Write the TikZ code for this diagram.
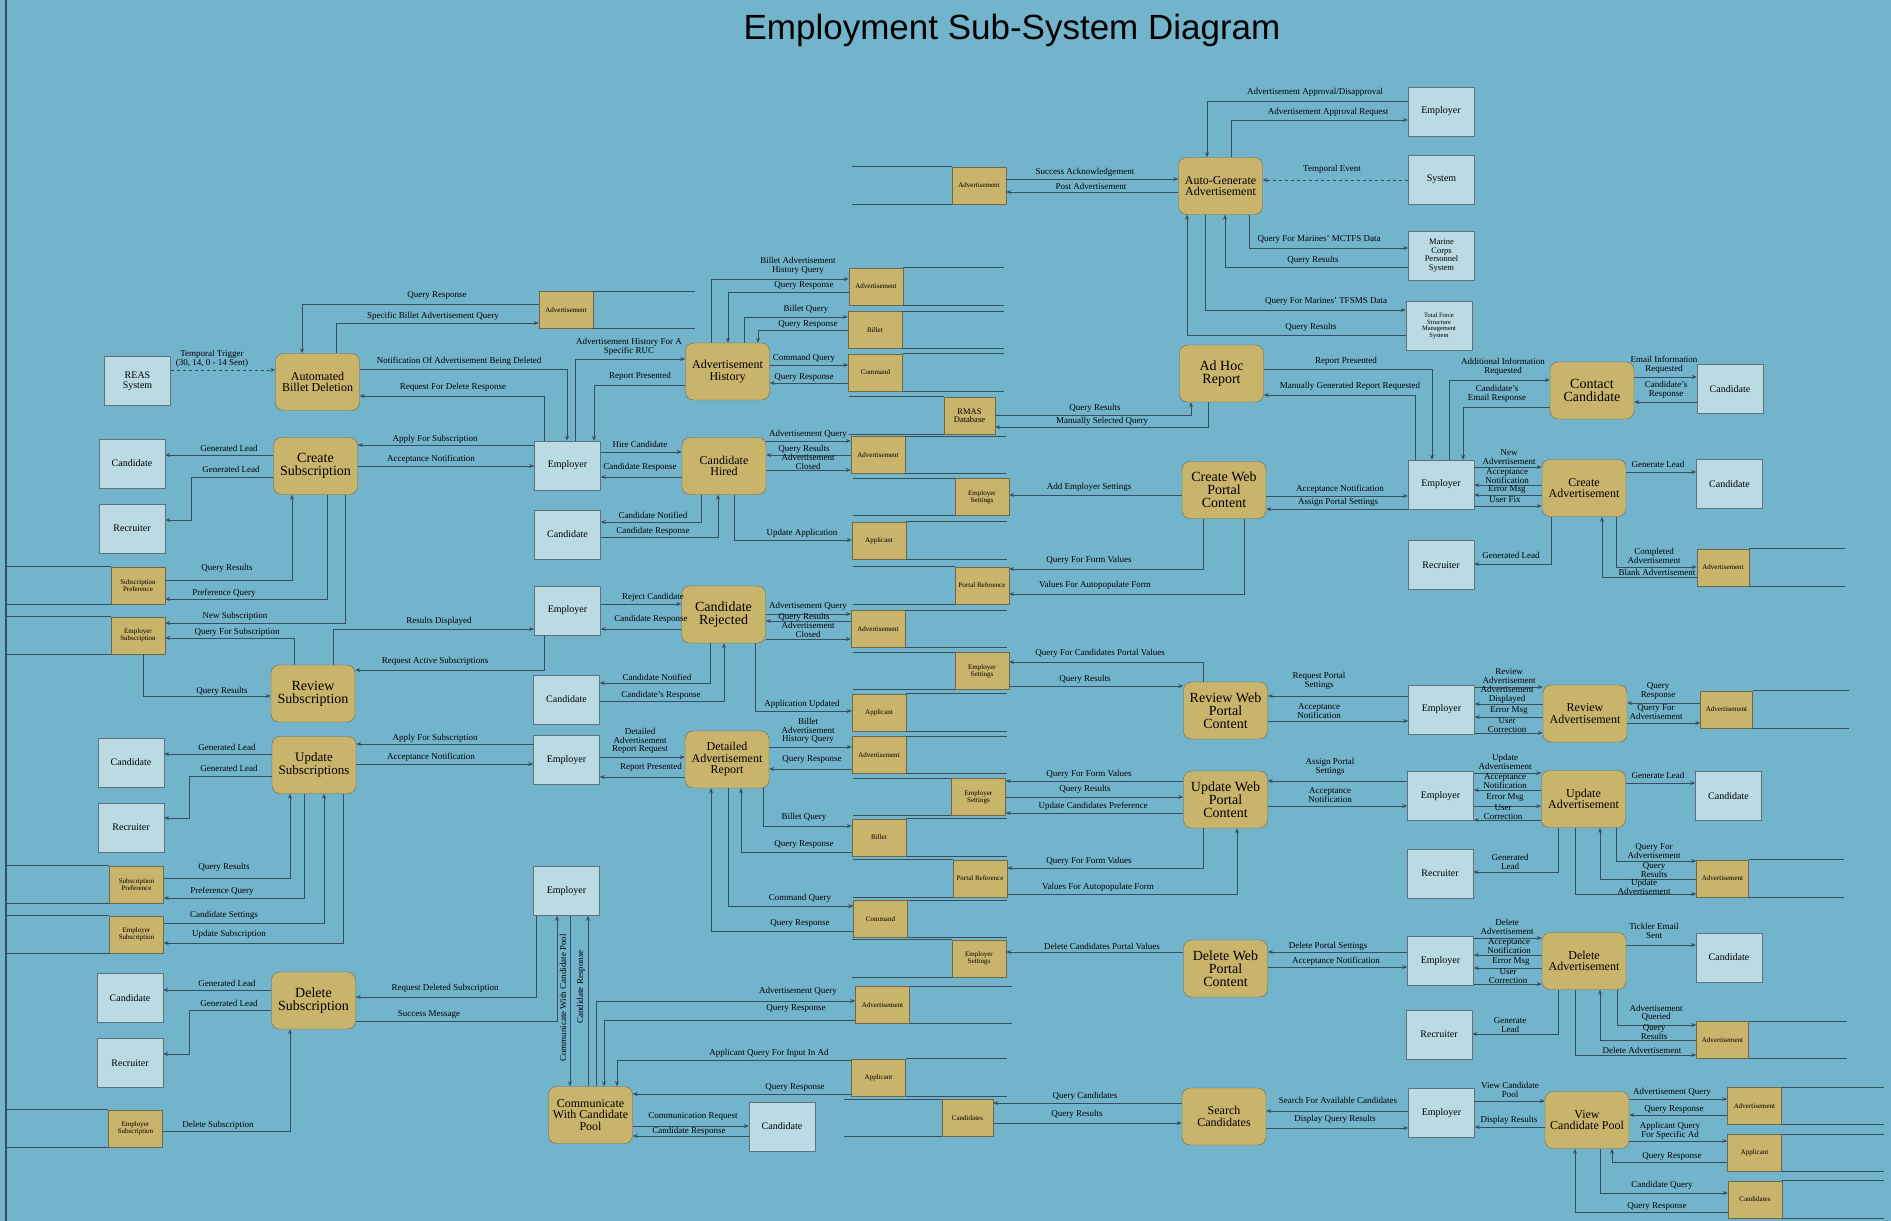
\documentclass[tikz,border=0pt]{standalone}
\usepackage{fontspec}
\setmainfont{Liberation Serif}
\newfontfamily\titlefont{Liberation Sans}
\usetikzlibrary{arrows.meta}
\definecolor{bgblue}{RGB}{115,180,205}
\definecolor{procgold}{RGB}{201,180,108}
\definecolor{procline}{RGB}{112,102,72}
\definecolor{entfill}{RGB}{187,218,228}
\definecolor{entline}{RGB}{95,115,125}
\definecolor{flowcol}{RGB}{55,78,92}

\begin{document}
\begin{tikzpicture}[x=1pt, y=-1pt, >={Stealth[length=5pt,width=4pt]},
    proc/.style={draw=procline, fill=procgold, rounded corners=8pt, minimum width=84pt, minimum height=57pt, align=center, inner sep=1pt, font=\fontsize{12}{11.5}\selectfont},
    bigproc/.style={proc, font=\fontsize{14}{13}\selectfont},
    ent/.style={draw=entline, fill=entfill, minimum width=66pt, minimum height=49pt, align=center, inner sep=1pt, font=\fontsize{10}{10}\selectfont},
    store/.style={draw=procline, fill=procgold, minimum width=54pt, minimum height=37pt, align=center, inner sep=1pt, font=\fontsize{7}{7}\selectfont},
    storeline/.style={draw=flowcol, line width=0.8pt},
    flow/.style={draw=flowcol, line width=0.8pt, ->},
    tmp/.style={flow, dashed},
    lbl/.style={inner sep=0pt, align=center, font=\fontsize{9}{8.5}\selectfont}]

	\fill[bgblue] (0,0) rectangle (1891,1221);
	\useasboundingbox (0,0) rectangle (1891,1221);
	\draw[flowcol, line width=1.5pt] (6,0) -- (6,1221);
	\node[font=\titlefont\fontsize{35}{35}\selectfont] (title) at (1012,30) {Employment Sub-System Diagram};

	% external entities
	\node[ent] (reas) at (137.5,381) {REAS\\System};
	\node[ent] (candA) at (132,463.5) {Candidate};
	\node[ent] (recA) at (132,528.5) {Recruiter};
	\node[ent] (empA) at (567.5,465.5) {Employer};
	\node[ent] (candB) at (567.5,534.5) {Candidate};
	\node[ent] (empB) at (567.5,610.5) {Employer};
	\node[ent] (candC) at (566.5,699.5) {Candidate};
	\node[ent] (candD) at (131,762.5) {Candidate};
	\node[ent] (recD) at (131,827.5) {Recruiter};
	\node[ent] (empC) at (566.5,760) {Employer};
	\node[ent] (empD) at (566.5,891) {Employer};
	\node[ent] (candE) at (130,998) {Candidate};
	\node[ent] (recE) at (130,1063) {Recruiter};
	\node[ent] (candF) at (782,1126.5) {Candidate};
	\node[ent] (empTR) at (1441,111.5) {Employer};
	\node[ent] (system) at (1441.5,179.5) {System};
	\node[ent, font=\fontsize{8.5}{8.5}\selectfont] (mcps) at (1441.5,255.5) {Marine\\Corps\\Personnel\\System};
	\node[ent, font=\fontsize{6.5}{6.5}\selectfont] (tfsms) at (1439,326) {Total Force\\Structure\\Management\\System};
	\node[ent] (candG) at (1730,389) {Candidate};
	\node[ent] (empE) at (1441,484.5) {Employer};
	\node[ent] (candH) at (1729.5,484) {Candidate};
	\node[ent] (recH) at (1441,565) {Recruiter};
	\node[ent] (empF) at (1441.5,709.5) {Employer};
	\node[ent] (empG) at (1440.5,796) {Employer};
	\node[ent] (candI) at (1728.5,796) {Candidate};
	\node[ent] (recI) at (1440,873.5) {Recruiter};
	\node[ent] (empH) at (1440.5,961) {Employer};
	\node[ent] (candJ) at (1729,957.5) {Candidate};
	\node[ent] (recJ) at (1439,1034.5) {Recruiter};
	\node[ent] (empI) at (1441.5,1113) {Employer};

	% processes
	\node[proc] (abd) at (317.5,382) {Automated\\Billet Deletion};
	\node[bigproc] (crsub) at (315.5,466) {Create\\Subscription};
	\node[bigproc] (revsub) at (313,693.5) {Review\\Subscription};
	\node[bigproc, font=\fontsize{13}{13}\selectfont] (updsub) at (314,765) {Update\\Subscriptions};
	\node[bigproc] (delsub) at (313.5,1000.5) {Delete\\Subscription};
	\node[proc] (advhist) at (727.5,371.5) {Advertisement\\History};
	\node[proc] (hired) at (724,466) {Candidate\\Hired};
	\node[bigproc] (rejected) at (723.5,614.5) {Candidate\\Rejected};
	\node[proc] (detailed) at (727,759.5) {Detailed\\Advertisement\\Report};
	\node[proc] (commun) at (590.5,1115) {Communicate\\With Candidate\\Pool};
	\node[proc] (autogen) at (1220.5,186) {Auto-Generate\\Advertisement};
	\node[bigproc] (adhoc) at (1221.5,373.5) {Ad Hoc\\Report};
	\node[bigproc] (createweb) at (1224,490) {Create Web\\Portal\\Content};
	\node[bigproc] (reviewweb) at (1225.5,710.5) {Review Web\\Portal\\Content};
	\node[bigproc] (updateweb) at (1225.5,799.5) {Update Web\\Portal\\Content};
	\node[bigproc] (deleteweb) at (1225.5,968.5) {Delete Web\\Portal\\Content};
	\node[proc] (search) at (1224,1116.5) {Search\\Candidates};
	\node[bigproc] (contact) at (1592,390.5) {Contact\\Candidate};
	\node[proc] (createadv) at (1584,488) {Create\\Advertisement};
	\node[proc] (reviewadv) at (1585,713.5) {Review\\Advertisement};
	\node[proc] (updateadv) at (1583.5,799) {Update\\Advertisement};
	\node[proc] (deleteadv) at (1584,961) {Delete\\Advertisement};
	\node[proc] (viewpool) at (1587,1120) {View\\Candidate Pool};

	% data stores
	\node[store] (advA) at (566,310) {Advertisement};
	\node[store] (advB) at (979,185.5) {Advertisement};
	\node[store] (advC) at (876,286.5) {Advertisement};
	\node[store] (billetA) at (875,330) {Billet};
	\node[store] (cmdA) at (875.5,372.5) {Command};
	\node[store, minimum width=51pt, font=\fontsize{8.5}{8.5}\selectfont] (rmas) at (969.5,415.5) {RMAS\\Database};
	\node[store] (advD) at (878,455) {Advertisement};
	\node[store] (empset1) at (982,497) {Employer\\Settings};
	\node[store] (applA) at (879,540.5) {Applicant};
	\node[store] (portref1) at (982,585.5) {Portal Reference};
	\node[store] (advE) at (878,629) {Advertisement};
	\node[store] (empset2) at (982,671) {Employer\\Settings};
	\node[store] (applB) at (879,712.5) {Applicant};
	\node[store] (advF) at (879,755) {Advertisement};
	\node[store] (empset3) at (978.5,797) {Employer\\Settings};
	\node[store] (billetB) at (879,837.5) {Billet};
	\node[store] (portref2) at (980,878.5) {Portal Reference};
	\node[store] (cmdB) at (880.5,919) {Command};
	\node[store] (empset4) at (979,958.5) {Employer\\Settings};
	\node[store] (advG) at (882.5,1005) {Advertisement};
	\node[store] (applC) at (878.5,1077.5) {Applicant};
	\node[store, minimum width=51pt] (candsA) at (967.5,1118) {Candidates};
	\node[store] (subprefA) at (138,585.5) {Subscription\\Preference};
	\node[store] (empsubA) at (138,635.5) {Employer\\Subscription};
	\node[store] (subprefB) at (136.5,884.5) {Subscription\\Preference};
	\node[store] (empsubB) at (136.5,934.5) {Employer\\Subscription};
	\node[store] (empsubC) at (135.5,1128.5) {Employer\\Subscription};
	\node[store, minimum width=52pt] (advH) at (1723,567.5) {Advertisement};
	\node[store, minimum width=52pt] (advI) at (1726.5,709.5) {Advertisement};
	\node[store, minimum width=52pt] (advJ) at (1722.5,878.5) {Advertisement};
	\node[store, minimum width=52pt] (advK) at (1722.5,1040) {Advertisement};
	\node[store] (advL) at (1754.5,1106) {Advertisement};
	\node[store] (applD) at (1754.5,1153) {Applicant};
	\node[store] (candsB) at (1755,1199.5) {Candidates};

	\foreach \s/\a/\d in {advA/east/102, advB/west/-100, advC/east/101, billetA/east/102, cmdA/east/101,
	    rmas/west/-95, advD/east/101, empset1/west/-102, applA/east/101, portref1/west/-102,
	    advE/east/102, empset2/west/-102, applB/east/101, advF/east/101, empset3/west/-98,
	    billetB/east/101, portref2/west/-100, cmdB/east/99, empset4/west/-100, advG/east/102,
	    applC/east/101, candsA/west/-98, subprefA/west/-105, empsubA/west/-105, subprefB/west/-103,
	    empsubB/west/-103, empsubC/west/-102, advH/east/96, advI/east/96, advJ/east/95,
	    advK/east/98, advL/east/102, applD/east/102, candsB/east/102}
		\draw[storeline] (\s.north \a) -- ++(\d,0) (\s.south \a) -- ++(\d,0);

	% billet deletion
	\draw[flow] (advA.west |- 0,304) -| (abd.north -| 302,0) node[lbl] (l1) at (437,295) {Query Response};
	\draw[flow] (abd.north -| 336,0) |- (advA.west |- 0,323) node[lbl] (l2) at (433,316) {Specific Billet Advertisement Query};
	\draw[tmp] (reas.east |- 0,370) -- (abd.west |- 0,370) node[lbl] (l3) at (212,359) {Temporal Trigger\\(30, 14, 0 - 14 Sent)};
	\draw[flow] (abd.east |- 0,369) -| (empA.north -| 567,0) node[lbl] (l4) at (459,361) {Notification Of Advertisement Being Deleted};
	\draw[flow] (empA.north -| 544,0) |- (abd.east |- 0,396) node[lbl] (l5) at (453,387) {Request For Delete Response};

	% advertisement history
	\draw[flow] (empA.north -| 575,0) |- (advhist.west |- 0,359) node[lbl] (l6) at (629,347) {Advertisement History For A\\Specific RUC};
	\draw[flow] (advhist.west |- 0,385) -| (empA.north -| 594,0) node[lbl] (l7) at (640,376) {Report Presented};
	\draw[flow] (advhist.north -| 711,0) |- (advC.west |- 0,279) node[lbl] (l8) at (798,266) {Billet Advertisement\\History Query};
	\draw[flow] (advC.west |- 0,292) -| (advhist.north -| 728,0) node[lbl] (l9) at (804,285) {Query Response};
	\draw[flow] (advhist.north -| 744,0) |- (billetA.west |- 0,317) node[lbl] (l10) at (806,309) {Billet Query};
	\draw[flow] (billetA.west |- 0,330) -| (advhist.north -| 758,0) node[lbl] (l11) at (808,324) {Query Response};
	\draw[flow] (advhist.east |- 0,365) -- (cmdA.west |- 0,365) node[lbl] (l12) at (804,358) {Command Query};
	\draw[flow] (cmdA.west |- 0,383) -- (advhist.east |- 0,383) node[lbl] (l13) at (804,377) {Query Response};

	% auto-generate advertisement
	\draw[flow] (empTR.west |- 0,101) -| (autogen.north -| 1207,0) node[lbl] (l14) at (1315,92) {Advertisement Approval/Disapproval};
	\draw[flow] (autogen.north -| 1231,0) |- (empTR.west |- 0,120) node[lbl] (l15) at (1328,112) {Advertisement Approval Request};
	\draw[tmp] (system.west |- 0,180) -- (autogen.east |- 0,180) node[lbl] (l16) at (1332,169) {Temporal Event};
	\draw[flow] (autogen.south -| 1249,0) |- (mcps.west |- 0,248) node[lbl] (l17) at (1319,239) {Query For Marines' MCTFS Data};
	\draw[flow] (mcps.west |- 0,267) -| (autogen.south -| 1225,0) node[lbl] (l18) at (1313,260) {Query Results};
	\draw[flow] (autogen.south -| 1205,0) |- (tfsms.west |- 0,310) node[lbl] (l19) at (1326,301) {Query For Marines' TFSMS Data};
	\draw[flow] (tfsms.west |- 0,335) -| (autogen.south -| 1187,0) node[lbl] (l20) at (1311,327) {Query Results};
	\draw[flow] (advB.east |- 0,179) -- (autogen.west |- 0,179) node[lbl] (l21) at (1085,172) {Success Acknowledgement};
	\draw[flow] (autogen.west |- 0,192) -- (advB.east |- 0,192) node[lbl] (l22) at (1091,186) {Post Advertisement};

	% ad hoc report
	\draw[flow] (rmas.east |- 0,415) -| (adhoc.south -| 1191,0) node[lbl] (l23) at (1095,408) {Query Results};
	\draw[flow] (adhoc.south -| 1208,0) |- (rmas.east |- 0,427) node[lbl] (l24) at (1102,421) {Manually Selected Query};
	\draw[flow] (adhoc.east |- 0,369) -| (empE.north -| 1432,0) node[lbl] (l25) at (1346,361) {Report Presented};
	\draw[flow] (empE.north -| 1415,0) |- (adhoc.east |- 0,395) node[lbl] (l26) at (1350,386) {Manually Generated Report Requested};

	% contact candidate
	\draw[flow] (empE.north -| 1449,0) |- (contact.west |- 0,380) node[lbl] (l27) at (1503,367) {Additional Information\\Requested};
	\draw[flow] (contact.west |- 0,407) -| (empE.north -| 1463,0) node[lbl] (l28) at (1497,394) {Candidate's\\Email Response};
	\draw[flow] (contact.east |- 0,377) -- (candG.west |- 0,377) node[lbl] (l29) at (1664,365) {Email Information\\Requested};
	\draw[flow] (candG.west |- 0,402) -- (contact.east |- 0,402) node[lbl] (l30) at (1666,390) {Candidate's\\Response};

	% create web portal content
	\draw[flow] (createweb.east |- 0,496) -- (empE.west |- 0,496) node[lbl] (l31) at (1340,489) {Acceptance Notification};
	\draw[flow] (empE.west |- 0,509) -- (createweb.east |- 0,509) node[lbl] (l32) at (1338,502) {Assign Portal Settings};
	\draw[flow] (createweb.west |- 0,495) -- (empset1.east |- 0,495) node[lbl] (l33) at (1089,487) {Add Employer Settings};
	\draw[flow] (createweb.south -| 1203,0) |- (portref1.east |- 0,569) node[lbl] (l34) at (1089,560) {Query For Form Values};
	\draw[flow] (createweb.south -| 1244,0) |- (portref1.east |- 0,594) node[lbl] (l35) at (1095,585) {Values For Autopopulate Form};

	% create advertisement
	\draw[flow] (empE.east |- 0,467) -- (createadv.west |- 0,467) node[lbl] (l36) at (1509,457) {New\\Advertisement};
	\draw[flow] (createadv.west |- 0,485) -- (empE.east |- 0,485) node[lbl] (l37) at (1507,476) {Acceptance\\Notification};
	\draw[flow] (createadv.west |- 0,495) -- (empE.east |- 0,495) node[lbl] (l38) at (1507,490) {Error Msg};
	\draw[flow] (empE.east |- 0,506) -- (createadv.west |- 0,506) node[lbl] (l39) at (1505,500) {User Fix};
	\draw[flow] (createadv.east |- 0,472) -- (candH.west |- 0,472) node[lbl] (l40) at (1658,464) {Generate Lead};
	\draw[flow] (createadv.south -| 1551,0) |- (recH.east |- 0,564) node[lbl] (l41) at (1511,555) {Generated Lead};
	\draw[flow] (createadv.south -| 1616,0) |- (advH.west |- 0,567) node[lbl] (l42) at (1654,556) {Completed\\Advertisement};
	\draw[flow] (advH.west |- 0,577) -| (createadv.south -| 1602,0) node[lbl] (l43) at (1657,572) {Blank Advertisement};

	% subscriptions
	\draw[flow] (empA.west |- 0,445) -- (crsub.east |- 0,445) node[lbl] (l44) at (435,439) {Apply For Subscription};
	\draw[flow] (crsub.east |- 0,466) -- (empA.west |- 0,466) node[lbl] (l45) at (431,459) {Acceptance Notification};
	\draw[flow] (crsub.west |- 0,455) -- (candA.east |- 0,455) node[lbl] (l46) at (229,448) {Generated Lead};
	\draw[flow] (crsub.west |- 0,477) -| (191,520) -- (recA.east |- 0,520) node[lbl] (l47) at (231,469) {Generated Lead};
	\draw[flow] (subprefA.east |- 0,580) -| (crsub.south -| 292,0) node[lbl] (l48) at (227,568) {Query Results};
	\draw[flow] (crsub.south -| 327,0) |- (subprefA.east |- 0,599) node[lbl] (l49) at (224,593) {Preference Query};
	\draw[flow] (crsub.south -| 345,0) |- (empsubA.east |- 0,623) node[lbl] (l50) at (235,616) {New Subscription};
	\draw[flow] (revsub.north -| 294,0) |- (empsubA.east |- 0,638) node[lbl] (l51) at (237,632) {Query For Subscription};
	\draw[flow] (empsubA.south -| 143,0) |- (revsub.west |- 0,696) node[lbl] (l52) at (222,691) {Query Results};
	\draw[flow] (revsub.north -| 333,0) |- (empB.west |- 0,629) node[lbl] (l53) at (439,621) {Results Displayed};
	\draw[flow] (empB.south -| 544,0) |- (revsub.east |- 0,670) node[lbl] (l54) at (435,661) {Request Active Subscriptions};
	\draw[flow] (empC.west |- 0,744) -- (updsub.east |- 0,744) node[lbl] (l55) at (435,738) {Apply For Subscription};
	\draw[flow] (updsub.east |- 0,764) -- (empC.west |- 0,764) node[lbl] (l56) at (431,757) {Acceptance Notification};
	\draw[flow] (updsub.west |- 0,754) -- (candD.east |- 0,754) node[lbl] (l57) at (227,747) {Generated Lead};
	\draw[flow] (updsub.west |- 0,776) -| (189,818) -- (recD.east |- 0,818) node[lbl] (l58) at (229,768) {Generated Lead};
	\draw[flow] (subprefB.east |- 0,878) -| (updsub.south -| 290,0) node[lbl] (l59) at (224,867) {Query Results};
	\draw[flow] (updsub.south -| 304,0) |- (subprefB.east |- 0,898) node[lbl] (l60) at (222,891) {Preference Query};
	\draw[flow] (empsubB.east |- 0,923) -| (updsub.south -| 324,0) node[lbl] (l61) at (224,915) {Candidate Settings};
	\draw[flow] (updsub.south -| 343,0) |- (empsubB.east |- 0,943) node[lbl] (l62) at (229,934) {Update Subscription};
	\draw[flow] (delsub.west |- 0,990) -- (candE.east |- 0,990) node[lbl] (l63) at (227,983) {Generated Lead};
	\draw[flow] (delsub.west |- 0,1010) -| (189,1054) -- (recE.east |- 0,1054) node[lbl] (l64) at (229,1003) {Generated Lead};
	\draw[flow] (empD.south -| 536,0) |- (delsub.east |- 0,997) node[lbl] (l65) at (445,988) {Request Deleted Subscription};
	\draw[flow] (delsub.east |- 0,1021) -| (empD.south -| 557,0) node[lbl] (l66) at (429,1014) {Success Message};
	\draw[flow] (empsubC.east |- 0,1131) -| (delsub.south -| 290,0) node[lbl] (l67) at (218,1125) {Delete Subscription};

	% communicate with candidate pool
	\draw[flow] (empD.south -| 570,0) -- (commun.north -| 570,0) node[lbl, rotate=90] (l68) at (563,998) {Communicate With Candidate Pool};
	\draw[flow] (commun.north -| 588,0) -- (empD.south -| 588,0) node[lbl, rotate=90] (l69) at (581,987) {Candidate Response};
	\draw[flow] (commun.north -| 596,0) |- (advG.west |- 0,1001) node[lbl] (l70) at (798,991) {Advertisement Query};
	\draw[flow] (advG.west |- 0,1020) -| (commun.north -| 604,0) node[lbl] (l71) at (796,1008) {Query Response};
	\draw[flow] (applC.west |- 0,1060) -| (commun.north -| 617,0) node[lbl] (l72) at (769,1053) {Applicant Query For Input In Ad};
	\draw[flow] (applC.west |- 0,1094) -- (commun.east |- 0,1094) node[lbl] (l73) at (795,1087) {Query Response};
	\draw[flow] (commun.east |- 0,1126) -- (candF.west |- 0,1126) node[lbl] (l74) at (693,1116) {Communication Request};
	\draw[flow] (candF.west |- 0,1136) -- (commun.east |- 0,1136) node[lbl] (l75) at (689,1131) {Candidate Response};

	% candidate hired
	\draw[flow] (empA.east |- 0,452) -- (hired.west |- 0,452) node[lbl] (l76) at (640,444) {Hire Candidate};
	\draw[flow] (hired.west |- 0,477) -- (empA.east |- 0,477) node[lbl] (l77) at (640,467) {Candidate Response};
	\draw[flow] (hired.south -| 701,0) |- (candB.east |- 0,522) node[lbl] (l78) at (653,515) {Candidate Notified};
	\draw[flow] (candB.east |- 0,537) -| (hired.south -| 718,0) node[lbl] (l79) at (653,531) {Candidate Response};
	\draw[flow] (hired.south -| 734,0) |- (applA.west |- 0,540) node[lbl] (l80) at (802,533) {Update Application};
	\draw[flow] (hired.east |- 0,441) -- (advD.west |- 0,441) node[lbl] (l81) at (808,434) {Advertisement Query};
	\draw[flow] (advD.west |- 0,455) -- (hired.east |- 0,455) node[lbl] (l82) at (804,449) {Query Results};
	\draw[flow] (hired.east |- 0,470) -- (advD.west |- 0,470) node[lbl] (l83) at (808,462) {Advertisement\\Closed};

	% candidate rejected
	\draw[flow] (empB.east |- 0,604) -- (rejected.west |- 0,604) node[lbl] (l84) at (653,597) {Reject Candidate};
	\draw[flow] (rejected.west |- 0,629) -- (empB.east |- 0,629) node[lbl] (l85) at (651,619) {Candidate Response};
	\draw[flow] (rejected.south -| 710,0) |- (candC.east |- 0,683) node[lbl] (l86) at (657,677) {Candidate Notified};
	\draw[flow] (candC.east |- 0,701) -| (rejected.south -| 724,0) node[lbl] (l87) at (661,695) {Candidate's Response};
	\draw[flow] (rejected.south -| 755,0) |- (applB.west |- 0,711) node[lbl] (l88) at (802,704) {Application Updated};
	\draw[flow] (rejected.east |- 0,614) -- (advE.west |- 0,614) node[lbl] (l89) at (808,606) {Advertisement Query};
	\draw[flow] (advE.west |- 0,621) -- (rejected.east |- 0,621) node[lbl] (l90) at (804,617) {Query Results};
	\draw[flow] (rejected.east |- 0,639) -- (advE.west |- 0,639) node[lbl] (l91) at (808,630) {Advertisement\\Closed};

	% review web portal content / review advertisement
	\draw[flow] (reviewweb.north -| 1203,0) |- (empset2.east |- 0,662) node[lbl] (l92) at (1100,653) {Query For Candidates Portal Values};
	\draw[flow] (empset2.east |- 0,686) -- (reviewweb.west |- 0,686) node[lbl] (l93) at (1085,679) {Query Results};
	\draw[flow] (empF.west |- 0,696) -- (reviewweb.east |- 0,696) node[lbl] (l94) at (1319,681) {Request Portal\\Settings};
	\draw[flow] (reviewweb.east |- 0,721) -- (empF.west |- 0,721) node[lbl] (l95) at (1319,711) {Acceptance\\Notification};
	\draw[flow] (empF.east |- 0,687) -- (reviewadv.west |- 0,687) node[lbl] (l96) at (1509,676) {Review\\Advertisement};
	\draw[flow] (reviewadv.west |- 0,704) -- (empF.east |- 0,704) node[lbl] (l97) at (1507,695) {Advertisement\\Displayed};
	\draw[flow] (reviewadv.west |- 0,717) -- (empF.east |- 0,717) node[lbl] (l98) at (1509,711) {Error Msg};
	\draw[flow] (empF.east |- 0,733) -- (reviewadv.west |- 0,733) node[lbl] (l99) at (1507,725) {User\\Correction};
	\draw[flow] (advI.west |- 0,703) -- (reviewadv.east |- 0,703) node[lbl] (l100) at (1658,691) {Query\\Response};
	\draw[flow] (reviewadv.east |- 0,723) -- (advI.west |- 0,723) node[lbl] (l101) at (1656,712) {Query For\\Advertisement};

	% detailed advertisement report
	\draw[flow] (empC.east |- 0,757) -- (detailed.west |- 0,757) node[lbl] (l102) at (640,741) {Detailed\\Advertisement\\Report Request};
	\draw[flow] (detailed.west |- 0,777) -- (empC.east |- 0,777) node[lbl] (l103) at (651,767) {Report Presented};
	\draw[flow] (detailed.east |- 0,747) -- (advF.west |- 0,747) node[lbl] (l104) at (808,731) {Billet\\Advertisement\\History Query};
	\draw[flow] (advF.west |- 0,769) -- (detailed.east |- 0,769) node[lbl] (l105) at (812,759) {Query Response};
	\draw[flow] (detailed.south -| 763,0) |- (billetB.west |- 0,826) node[lbl] (l106) at (804,817) {Billet Query};
	\draw[flow] (billetB.west |- 0,852) -| (detailed.south -| 741,0) node[lbl] (l107) at (804,844) {Query Response};
	\draw[flow] (detailed.south -| 728,0) |- (cmdB.west |- 0,906) node[lbl] (l108) at (800,898) {Command Query};
	\draw[flow] (cmdB.west |- 0,931) -| (detailed.south -| 711,0) node[lbl] (l109) at (800,923) {Query Response};

	% update web portal content / update advertisement
	\draw[flow] (updateweb.west |- 0,781) -- (empset3.east |- 0,781) node[lbl] (l110) at (1089,774) {Query For Form Values};
	\draw[flow] (empset3.east |- 0,797) -- (updateweb.west |- 0,797) node[lbl] (l111) at (1085,789) {Query Results};
	\draw[flow] (updateweb.west |- 0,813) -- (empset3.east |- 0,813) node[lbl] (l112) at (1093,806) {Update Candidates Preference};
	\draw[flow] (updateweb.south -| 1203,0) |- (portref2.east |- 0,868) node[lbl] (l113) at (1089,861) {Query For Form Values};
	\draw[flow] (portref2.east |- 0,894) -| (updateweb.south -| 1237,0) node[lbl] (l114) at (1098,887) {Values For Autopopulate Form};
	\draw[flow] (empG.west |- 0,781) -- (updateweb.east |- 0,781) node[lbl] (l115) at (1330,767) {Assign Portal\\Settings};
	\draw[flow] (updateweb.east |- 0,806) -- (empG.west |- 0,806) node[lbl] (l116) at (1330,795) {Acceptance\\Notification};
	\draw[flow] (empG.east |- 0,773) -- (updateadv.west |- 0,773) node[lbl] (l117) at (1505,762) {Update\\Advertisement};
	\draw[flow] (updateadv.west |- 0,790) -- (empG.east |- 0,790) node[lbl] (l118) at (1505,781) {Acceptance\\Notification};
	\draw[flow] (empG.east |- 0,806) -- (updateadv.west |- 0,806) node[lbl] (l119) at (1505,798) {Error Msg};
	\draw[flow] (updateadv.west |- 0,820) -- (empG.east |- 0,820) node[lbl] (l120) at (1503,812) {User\\Correction};
	\draw[flow] (updateadv.east |- 0,783) -- (candI.west |- 0,783) node[lbl] (l121) at (1658,775) {Generate Lead};
	\draw[flow] (updateadv.south -| 1558,0) |- (recI.east |- 0,872) node[lbl] (l122) at (1510,862) {Generated\\Lead};
	\draw[flow] (updateadv.south -| 1616,0) |- (advJ.west |- 0,861) node[lbl] (l123) at (1654,851) {Query For\\Advertisement};
	\draw[flow] (advJ.west |- 0,879) -| (updateadv.south -| 1600,0) node[lbl] (l124) at (1654,870) {Query\\Results};
	\draw[flow] (updateadv.south -| 1575,0) |- (advJ.west |- 0,894) node[lbl] (l125) at (1644,887) {Update\\Advertisement};

	% delete web portal content / delete advertisement
	\draw[flow] (deleteweb.west |- 0,952) -- (empset4.east |- 0,952) node[lbl] (l126) at (1102,946) {Delete Candidates Portal Values};
	\draw[flow] (empH.west |- 0,952) -- (deleteweb.east |- 0,952) node[lbl] (l127) at (1328,946) {Delete Portal Settings};
	\draw[flow] (deleteweb.east |- 0,967) -- (empH.west |- 0,967) node[lbl] (l128) at (1336,961) {Acceptance Notification};
	\draw[flow] (empH.east |- 0,938) -- (deleteadv.west |- 0,938) node[lbl] (l129) at (1507,927) {Delete\\Advertisement};
	\draw[flow] (deleteadv.west |- 0,955) -- (empH.east |- 0,955) node[lbl] (l130) at (1509,946) {Acceptance\\Notification};
	\draw[flow] (deleteadv.west |- 0,968) -- (empH.east |- 0,968) node[lbl] (l131) at (1511,962) {Error Msg};
	\draw[flow] (empH.east |- 0,984) -- (deleteadv.west |- 0,984) node[lbl] (l132) at (1508,976) {User\\Correction};
	\draw[flow] (deleteadv.east |- 0,945) -- (candJ.west |- 0,945) node[lbl] (l133) at (1654,931) {Tickler Email\\Sent};
	\draw[flow] (deleteadv.south -| 1558,0) |- (recJ.east |- 0,1034) node[lbl] (l134) at (1510,1025) {Generate\\Lead};
	\draw[flow] (deleteadv.south -| 1617,0) |- (advK.west |- 0,1025) node[lbl] (l135) at (1656,1013) {Advertisement\\Queried};
	\draw[flow] (advK.west |- 0,1040) -| (deleteadv.south -| 1600,0) node[lbl] (l136) at (1654,1032) {Query\\Results};
	\draw[flow] (deleteadv.south -| 1575,0) |- (advK.west |- 0,1055) node[lbl] (l137) at (1642,1050) {Delete Advertisement};

	% search candidates / view candidate pool
	\draw[flow] (search.west |- 0,1103) -- (candsA.east |- 0,1103) node[lbl] (l138) at (1085,1096) {Query Candidates};
	\draw[flow] (candsA.east |- 0,1123) -- (search.west |- 0,1123) node[lbl] (l139) at (1077,1114) {Query Results};
	\draw[flow] (empI.west |- 0,1111) -- (search.east |- 0,1111) node[lbl] (l140) at (1338,1100) {Search For Available Candidates};
	\draw[flow] (search.east |- 0,1128) -- (empI.west |- 0,1128) node[lbl] (l141) at (1335,1119) {Display Query Results};
	\draw[flow] (empI.east |- 0,1101) -- (viewpool.west |- 0,1101) node[lbl] (l142) at (1510,1090) {View Candidate\\Pool};
	\draw[flow] (viewpool.west |- 0,1127) -- (empI.east |- 0,1127) node[lbl] (l143) at (1509,1120) {Display Results};
	\draw[flow] (viewpool.east |- 0,1099) -- (advL.west |- 0,1099) node[lbl] (l144) at (1672,1092) {Advertisement Query};
	\draw[flow] (advL.west |- 0,1115) -- (viewpool.east |- 0,1115) node[lbl] (l145) at (1674,1109) {Query Response};
	\draw[flow] (viewpool.east |- 0,1141) -- (applD.west |- 0,1141) node[lbl] (l146) at (1670,1131) {Applicant Query\\For Specific Ad};
	\draw[flow] (applD.west |- 0,1162) -| (viewpool.south -| 1612,0) node[lbl] (l147) at (1672,1156) {Query Response};
	\draw[flow] (viewpool.south -| 1600,0) |- (candsB.west |- 0,1193) node[lbl] (l148) at (1662,1185) {Candidate Query};
	\draw[flow] (candsB.west |- 0,1212) -| (viewpool.south -| 1575,0) node[lbl] (l149) at (1657,1206) {Query Response};
\end{tikzpicture}
\end{document}
